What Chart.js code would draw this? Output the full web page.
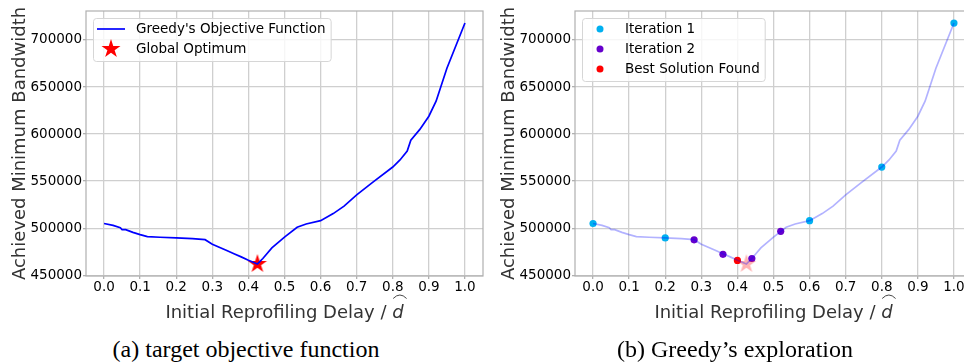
<!DOCTYPE html>
<html>
<head>
<meta charset="utf-8">
<script src="https://cdn.jsdelivr.net/npm/chart.js@4.4.1/dist/chart.umd.min.js"></script>
<style>
  html, body { margin: 0; padding: 0; background: #fff; }
  body { width: 964px; height: 364px; position: relative; overflow: hidden; }
  .plot { position: absolute; top: 0; width: 500px; height: 330px; }
  #plotA { left: 0; }
  #plotB { left: 489px; }
  .caption {
    position: absolute; top: 337px;
    font-family: "Liberation Serif", "Times New Roman", serif;
    font-size: 24px; line-height: 24px; color: #000;
    white-space: nowrap; transform: translateX(-50%);
  }
</style>
</head>
<body>
<div class="plot" id="plotA"><canvas id="chartA" width="500" height="330"></canvas></div>
<div class="plot" id="plotB"><canvas id="chartB" width="500" height="330"></canvas></div>
<div class="caption" style="left:246px">(a) target objective function</div>
<div class="caption" style="left:735px">(b) Greedy’s exploration</div>
<script>
// objective function sampled over the reprofiling delay
var curveDelay = [0, 0.025, 0.045, 0.05, 0.06, 0.08, 0.1, 0.12, 0.155, 0.2, 0.245, 0.28, 0.3, 0.34, 0.36,
  0.38, 0.4, 0.425, 0.44, 0.465, 0.5, 0.535, 0.56, 0.6, 0.635, 0.665, 0.7, 0.745, 0.8, 0.82, 0.84,
  0.85, 0.875, 0.9, 0.92, 0.95, 1.0];
var curveBandwidth = [505000, 503000, 500500, 498500, 498500, 495600, 493200, 491000, 490400, 489700,
  489000, 487800, 483000, 476300, 472800, 469500, 466000, 462000, 467800, 479000, 490500, 501000,
  504500, 508000, 515500, 523500, 535500, 549000, 565000, 572500, 582000, 593500, 605000, 619000,
  635000, 670000, 718000];

var optimumDelay = [0.425];
var optimumBandwidth = [462000];

// points visited by the greedy search
var iter1Delay = [0, 0.2, 0.6, 0.8, 1.0];
var iter1Bandwidth = [505000, 489700, 508000, 565000, 718000];
var iter2Delay = [0.28, 0.36, 0.44, 0.52];
var iter2Bandwidth = [487600, 472200, 467800, 496700];
var bestDelay = [0.4];
var bestBandwidth = [465800];

var xTicks = [0, 0.1, 0.2, 0.3, 0.4, 0.5, 0.6, 0.7, 0.8, 0.9, 1.0];
var yTicks = [450000, 500000, 550000, 600000, 650000, 700000];

var FONT = "'DejaVu Sans', 'Liberation Sans', sans-serif";

function pts(xs, ys) {
  return xs.map(function(x, i) { return { x: x, y: ys[i] }; });
}

function starImage(color, R) {
  var c = document.createElement("canvas");
  var s = Math.ceil(2 * R + 2);
  c.width = c.height = s;
  var g = c.getContext("2d");
  var r = R * 0.381966;
  g.beginPath();
  for (var i = 0; i < 10; i++) {
    var rad = i % 2 ? r : R;
    var ang = -Math.PI / 2 + i * Math.PI / 5;
    g.lineTo(s / 2 + rad * Math.cos(ang), s / 2 + rad * Math.sin(ang));
  }
  g.closePath();
  g.fillStyle = color;
  g.fill();
  return c;
}

var starSolid = starImage("#ff0000", 10);
var starFaded = starImage("rgba(255,0,0,0.3)", 10);

// spines, axis titles and the framed legend
var decor = {
  id: "decor",
  afterDraw: function(chart, args, opts) {
    var ctx = chart.ctx, a = chart.chartArea;
    ctx.save();
    ctx.strokeStyle = "#b0b0b0";
    ctx.lineWidth = 1.2;
    ctx.strokeRect(a.left, a.top, a.right - a.left, a.bottom - a.top);

    // y title
    ctx.fillStyle = "#333";
    ctx.font = "18px " + FONT;
    ctx.save();
    ctx.translate(25, (a.top + a.bottom) / 2);
    ctx.rotate(-Math.PI / 2);
    ctx.textAlign = "center";
    ctx.textBaseline = "alphabetic";
    ctx.fillText("Achieved Minimum Bandwidth", 0, 0);
    ctx.restore();

    // x title with a hatted italic d
    var main = "Initial Reprofiling Delay / ";
    ctx.font = "18px " + FONT;
    var wMain = ctx.measureText(main).width;
    ctx.font = "italic 18px " + FONT;
    var wD = ctx.measureText("d").width;
    var x0 = (a.left + a.right) / 2 - (wMain + wD) / 2;
    var base = 317.5;
    ctx.textAlign = "left";
    ctx.textBaseline = "alphabetic";
    ctx.font = "18px " + FONT;
    ctx.fillText(main, x0, base);
    ctx.font = "italic 18px " + FONT;
    ctx.fillText("d", x0 + wMain, base);
    var hx = x0 + wMain + 1;
    ctx.beginPath();
    ctx.strokeStyle = "#333";
    ctx.lineWidth = 0.9;
    ctx.moveTo(hx, base - 19);
    ctx.quadraticCurveTo(hx + wD / 2 + 1, base - 26, hx + wD + 2, base - 19);
    ctx.stroke();

    // legend
    var items = opts.items || [];
    ctx.font = "13.5px " + FONT;
    var tw = 0;
    items.forEach(function(it) { tw = Math.max(tw, ctx.measureText(it.text).width); });
    var bx = a.left + 7, by = a.top + 7;
    var bw = 43 + tw + 5, bh = 23 + (items.length - 1) * 20;
    ctx.beginPath();
    ctx.roundRect(bx + 0.5, by + 0.5, bw, bh, 3);
    ctx.fillStyle = "rgba(255,255,255,0.8)";
    ctx.fill();
    ctx.strokeStyle = "#d6d6d6";
    ctx.lineWidth = 1;
    ctx.stroke();
    items.forEach(function(it, i) {
      var y = by + 11 + i * 20;
      var hcx = bx + 18;
      if (it.kind === "line") {
        ctx.beginPath();
        ctx.strokeStyle = it.color;
        ctx.lineWidth = 1.7;
        ctx.moveTo(bx + 4, y);
        ctx.lineTo(bx + 32, y);
        ctx.stroke();
      } else if (it.kind === "star") {
        ctx.drawImage(starSolid, hcx - starSolid.width / 2, y - starSolid.height / 2);
      } else {
        ctx.beginPath();
        ctx.arc(hcx, y, 3.5, 0, Math.PI * 2);
        ctx.fillStyle = it.color;
        ctx.fill();
      }
      ctx.fillStyle = "#000";
      ctx.textBaseline = "middle";
      ctx.fillText(it.text, bx + 43, y);
    });
    ctx.restore();
  }
};

function makeOptions(legendItems) {
  return {
    responsive: false,
    animation: false,
    layout: { padding: { top: 9, right: 17, left: 0, bottom: 0 } },
    plugins: {
      legend: { display: false },
      tooltip: { enabled: false },
      decor: { items: legendItems }
    },
    scales: {
      x: {
        type: "linear",
        min: -0.05,
        max: 1.05,
        afterBuildTicks: function(s) { s.ticks = xTicks.map(function(v) { return { value: v }; }); },
        afterFit: function(s) { s.height = 54; },
        grid: { color: "#cfcfcf", lineWidth: 1.3, tickLength: 3, tickColor: "#b0b0b0" },
        border: { display: false },
        ticks: {
          padding: 0,
          color: "#000",
          font: { family: FONT, size: 13.5 },
          maxRotation: 0,
          callback: function(v) { return Number(v).toFixed(1); }
        }
      },
      y: {
        type: "linear",
        min: 449200,
        max: 730800,
        afterBuildTicks: function(s) { s.ticks = yTicks.map(function(v) { return { value: v }; }); },
        afterFit: function(s) { s.width = 86; },
        grid: { color: "#cfcfcf", lineWidth: 1.3, tickLength: 3, tickColor: "#b0b0b0" },
        border: { display: false },
        ticks: {
          padding: 1,
          color: "#000",
          font: { family: FONT, size: 13.5 },
          callback: function(v) { return String(v); }
        }
      }
    }
  };
}

new Chart(document.getElementById("chartA"), {
  type: "line",
  data: {
    datasets: [
      {
        label: "Greedy's Objective Function",
        data: pts(curveDelay, curveBandwidth),
        borderColor: "#0000ff",
        borderWidth: 1.7,
        pointRadius: 0,
        tension: 0
      },
      {
        label: "Global Optimum",
        data: pts(optimumDelay, optimumBandwidth),
        showLine: false,
        pointStyle: starSolid,
        pointRadius: 10
      }
    ]
  },
  options: makeOptions([
    { kind: "line", color: "#0000ff", text: "Greedy's Objective Function" },
    { kind: "star", text: "Global Optimum" }
  ]),
  plugins: [decor]
});

new Chart(document.getElementById("chartB"), {
  type: "line",
  data: {
    datasets: [
      {
        label: "Objective",
        data: pts(curveDelay, curveBandwidth),
        borderColor: "rgba(0,0,255,0.3)",
        borderWidth: 1.7,
        pointRadius: 0,
        tension: 0
      },
      {
        label: "Optimum",
        data: pts(optimumDelay, optimumBandwidth),
        showLine: false,
        pointStyle: starFaded,
        pointRadius: 10
      },
      {
        label: "Iteration 1",
        data: pts(iter1Delay, iter1Bandwidth),
        showLine: false,
        pointRadius: 3.6,
        backgroundColor: "#00b0f0",
        borderWidth: 0
      },
      {
        label: "Iteration 2",
        data: pts(iter2Delay, iter2Bandwidth),
        showLine: false,
        pointRadius: 3.6,
        backgroundColor: "#6600cc",
        borderWidth: 0
      },
      {
        label: "Best Solution Found",
        data: pts(bestDelay, bestBandwidth),
        showLine: false,
        pointRadius: 3.6,
        backgroundColor: "#ff0000",
        borderWidth: 0
      }
    ]
  },
  options: makeOptions([
    { kind: "dot", color: "#00b0f0", text: "Iteration 1" },
    { kind: "dot", color: "#6600cc", text: "Iteration 2" },
    { kind: "dot", color: "#ff0000", text: "Best Solution Found" }
  ]),
  plugins: [decor]
});
</script>
</body>
</html>
